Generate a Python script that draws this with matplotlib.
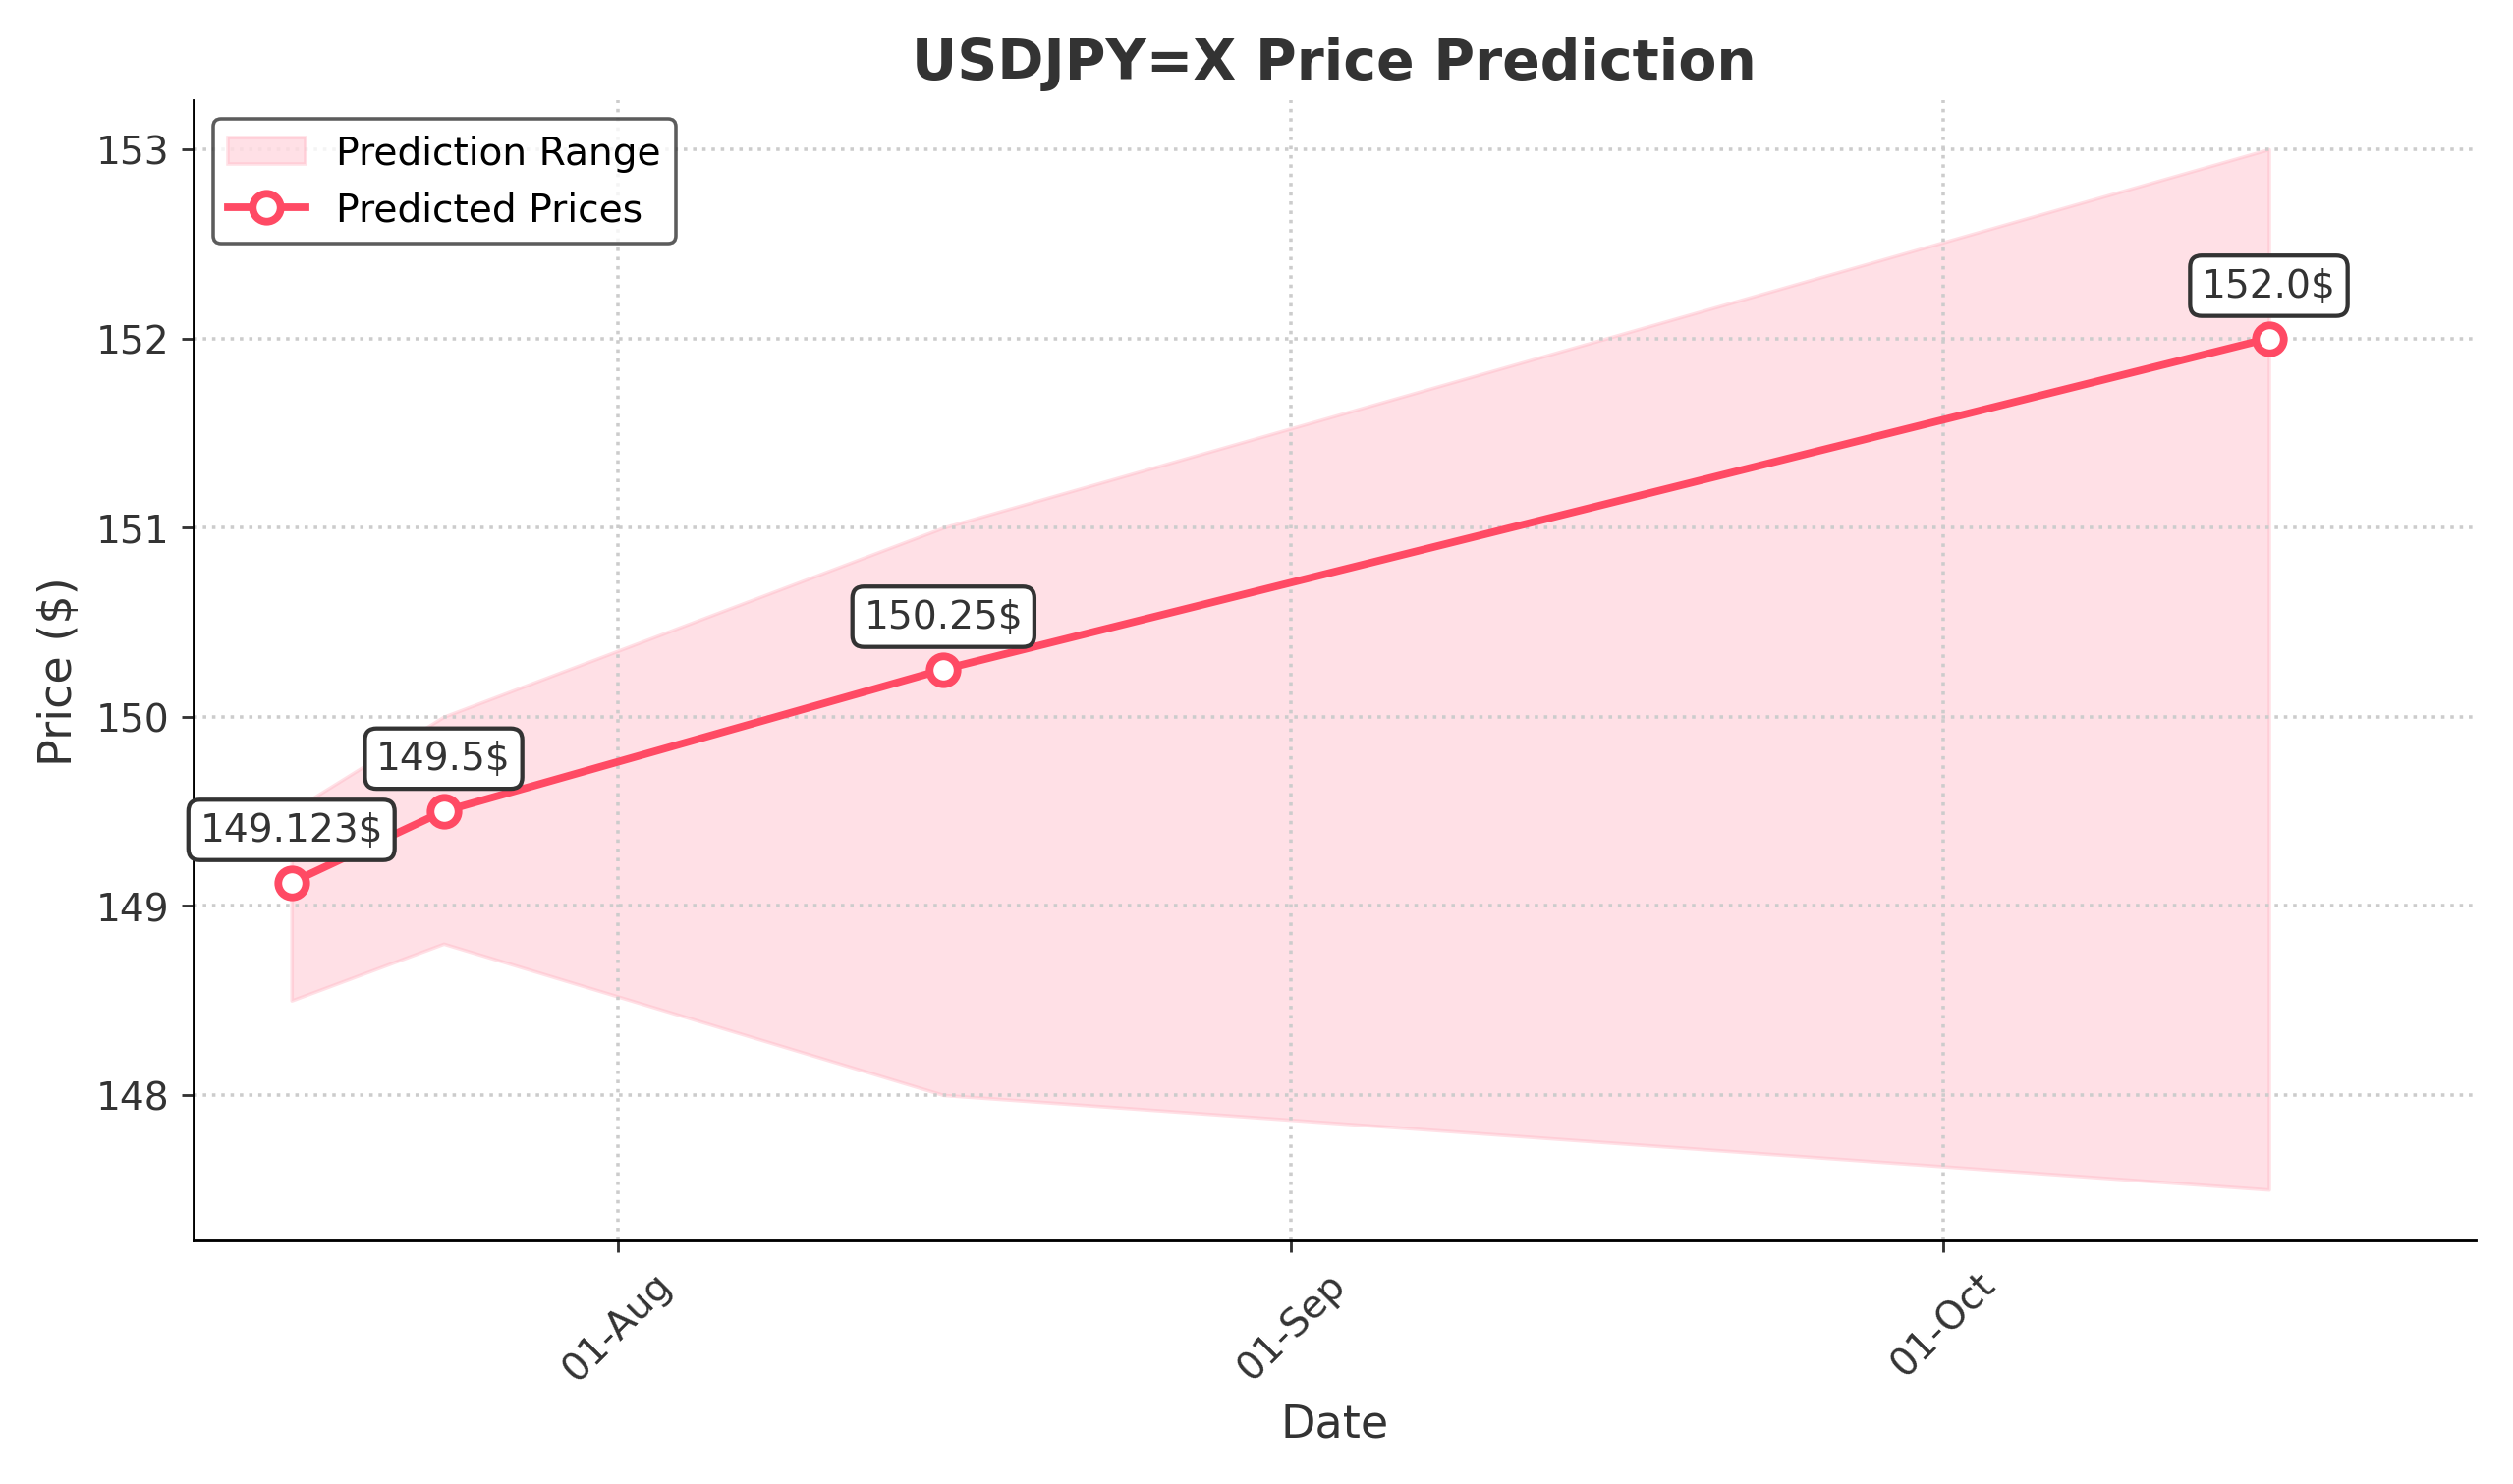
import matplotlib.pyplot as plt
import matplotlib.dates as mdates
import pandas as pd

dates = pd.to_datetime(["2024-07-17", "2024-07-24", "2024-08-16", "2024-10-16"])
predicted = [149.123, 149.5, 150.25, 152.0]
lower = [148.5, 148.8, 148.0, 147.5]
upper = [149.5, 150.0, 151.0, 153.0]
labels = ["149.123$", "149.5$", "150.25$", "152.0$"]

color = "#ff4a64"
fig, ax = plt.subplots(figsize=(10.0, 5.91), dpi=255.8)

ax.fill_between(dates, lower, upper, color="#ffb3c1", alpha=0.4, label="Prediction Range")
ax.plot(dates, predicted, color=color, lw=2.2, marker="o", markersize=8,
        markerfacecolor="white", markeredgewidth=2.2, label="Predicted Prices")

for d, v, t in zip(dates, predicted, labels):
    ax.annotate(t, (d, v), xytext=(0, 12), textcoords="offset points", ha="center",
                fontsize=11, color="#333333",
                bbox=dict(boxstyle="round,pad=0.3", fc="white", ec="#333333", lw=1.2))

ax.set_title("USDJPY=X Price Prediction", fontsize=16, fontweight="bold", color="#333333")
ax.set_xlabel("Date", fontsize=13, color="#333333")
ax.set_ylabel("Price ($)", fontsize=13, color="#333333")
ax.set_ylim(147.23, 153.26)
ax.set_xlim(pd.Timestamp("2024-07-12 12:00"), pd.Timestamp("2024-10-25 12:00"))
ax.xaxis.set_major_locator(mdates.MonthLocator())
ax.xaxis.set_major_formatter(mdates.DateFormatter("%d-%b"))
plt.setp(ax.get_xticklabels(), rotation=45)
ax.tick_params(labelsize=11, colors="#333333")
ax.grid(True, linestyle=":", color="#cccccc", lw=1)
ax.spines["top"].set_visible(False)
ax.spines["right"].set_visible(False)
ax.legend(loc="upper left", fontsize=11, edgecolor="#333333")

fig.tight_layout()
fig.savefig("out.png")
